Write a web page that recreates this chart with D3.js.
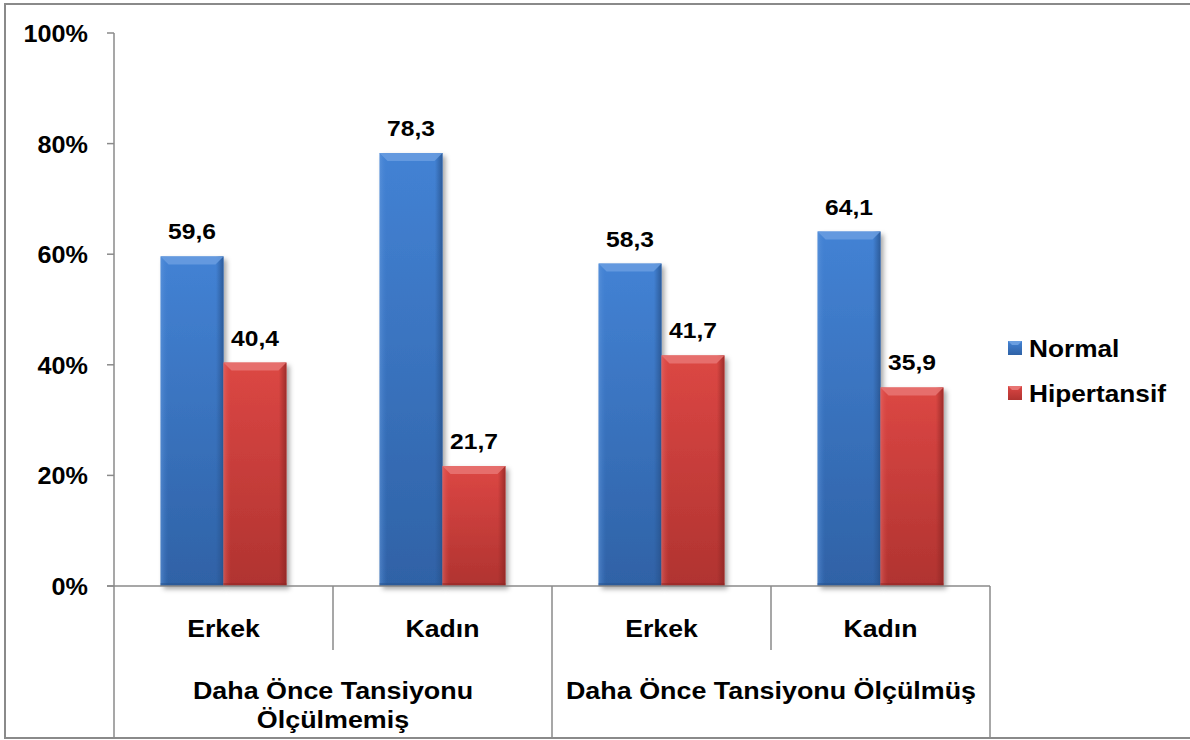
<!DOCTYPE html>
<html>
<head>
<meta charset="utf-8">
<script src="https://cdn.jsdelivr.net/npm/d3@7.9.0/dist/d3.min.js"></script>
<style>
  body { margin: 0; background: #fff; }
  svg text { font-family: Arial, "Liberation Sans", sans-serif; font-weight: bold; fill: #000; }
</style>
</head>
<body>
<svg id="chart" width="1190" height="740"></svg>
<script>
// data
const categories = ['Erkek', 'Kadın', 'Erkek', 'Kadın'];
const groups = [['Daha Önce Tansiyonu', 'Ölçülmemiş'], ['Daha Önce Tansiyonu Ölçülmüş']];
const series = ['Normal', 'Hipertansif'];
const normal = [59.6, 78.3, 58.3, 64.1];
const hipertansif = [40.4, 21.7, 41.7, 35.9];
const yTicks = [0, 20, 40, 60, 80, 100];

const values = [normal, hipertansif];
const colors = {
  Normal: { top: '#4382d4', bot: '#2f62a6', bevel: '#6a9ee0', edge: '#27528c' },
  Hipertansif: { top: '#dc4744', bot: '#b03330', bevel: '#e87573', edge: '#8e2624' }
};

const svg = d3.select('#chart');
const plotL = 114, plotR = 990, plotT = 33, plotB = 586;

// the original text is a bit wider than Liberation Sans, so stretch it horizontally
function label(x, y, txt, size, anchor, sx) {
  return svg.append('text')
    .attr('transform', `translate(${x},${y}) scale(${sx},1)`)
    .attr('text-anchor', anchor).attr('font-size', size).text(txt);
}

// outer frame
svg.append('rect')
  .attr('x', 5).attr('y', 4).attr('width', 1190).attr('height', 734)
  .attr('fill', 'none').attr('stroke', '#8a8a8a').attr('stroke-width', 2);

const y = d3.scaleLinear().domain([0, 100]).range([plotB, plotT]);
const x0 = d3.scaleBand().domain(d3.range(categories.length)).range([plotL, plotR]);
const x1 = d3.scaleBand().domain(series).range([0, x0.bandwidth()]).paddingOuter(0.74);

// defs: gradients + shadow
const defs = svg.append('defs');
series.forEach((s, i) => {
  const g = defs.append('linearGradient').attr('id', 'grad' + i)
    .attr('x1', 0).attr('y1', 0).attr('x2', 0).attr('y2', 1);
  g.append('stop').attr('offset', '0%').attr('stop-color', colors[s].top);
  g.append('stop').attr('offset', '100%').attr('stop-color', colors[s].bot);
  const e = defs.append('linearGradient').attr('id', 'edge' + i)
    .attr('x1', 0).attr('y1', 0).attr('x2', 1).attr('y2', 0);
  e.append('stop').attr('offset', '0%').attr('stop-color', colors[s].bevel).attr('stop-opacity', 0.5);
  e.append('stop').attr('offset', '12%').attr('stop-color', colors[s].top).attr('stop-opacity', 0);
  e.append('stop').attr('offset', '88%').attr('stop-color', colors[s].edge).attr('stop-opacity', 0);
  e.append('stop').attr('offset', '100%').attr('stop-color', colors[s].edge).attr('stop-opacity', 0.8);
});
const f = defs.append('filter').attr('id', 'shadow')
  .attr('x', '-20%').attr('y', '-10%').attr('width', '150%').attr('height', '130%');
f.append('feDropShadow').attr('dx', 3).attr('dy', 3).attr('stdDeviation', 2.5)
  .attr('flood-color', '#000').attr('flood-opacity', 0.35);

// y axis
svg.append('line').attr('x1', plotL).attr('x2', plotL).attr('y1', plotT).attr('y2', plotB)
  .attr('stroke', '#8a8a8a').attr('stroke-width', 1.5);
yTicks.forEach(t => {
  svg.append('line').attr('x1', plotL - 7).attr('x2', plotL).attr('y1', y(t)).attr('y2', y(t))
    .attr('stroke', '#8a8a8a').attr('stroke-width', 1.5);
  label(88, y(t) + 9, t + '%', 24, 'end', 1.05);
});

// bars
categories.forEach((c, ci) => {
  series.forEach((s, si) => {
    const v = values[si][ci];
    const bx = x0(ci) + x1(s), bw = x1.bandwidth();
    const by = y(v), bh = y(0) - y(v);
    const g = svg.append('g');
    g.append('rect').attr('x', bx).attr('y', by).attr('width', bw).attr('height', bh)
      .attr('fill', 'url(#grad' + si + ')').attr('filter', 'url(#shadow)');
    g.append('rect').attr('x', bx).attr('y', by).attr('width', bw).attr('height', bh)
      .attr('fill', 'url(#edge' + si + ')');
    const bev = 8;
    g.append('path')
      .attr('d', `M${bx},${by} L${bx + bw},${by} L${bx + bw - bev},${by + bev} L${bx + bev},${by + bev} Z`)
      .attr('fill', colors[s].bevel).attr('opacity', 0.85);
    g.append('rect').attr('x', bx).attr('y', y(0) - 3).attr('width', bw).attr('height', 3)
      .attr('fill', colors[s].edge).attr('opacity', 0.5);
    label(bx + bw / 2, by - 17, v.toFixed(1).replace('.', ','), 22, 'middle', 1.12);
  });
});

// x axis baseline and dividers
svg.append('line').attr('x1', plotL - 7).attr('x2', plotR).attr('y1', plotB).attr('y2', plotB)
  .attr('stroke', '#8a8a8a').attr('stroke-width', 1.5);
d3.range(categories.length + 1).forEach(i => {
  const xx = i < categories.length ? x0(i) : plotR;
  const long = i % 2 === 0;
  svg.append('line').attr('x1', xx).attr('x2', xx).attr('y1', plotB).attr('y2', long ? 738 : 650)
    .attr('stroke', '#8a8a8a').attr('stroke-width', 1.5);
});

// category labels
categories.forEach((c, ci) => {
  label(x0(ci) + x0.bandwidth() / 2, 637, c, 24, 'middle', 1.11);
});

// group labels
groups.forEach((lines, gi) => {
  const gx = x0(gi * 2) + x0.bandwidth();
  lines.forEach((l, li) => {
    label(gx, 699 + li * 29, l, 24, 'middle', 1.12);
  });
});

// legend
series.forEach((s, si) => {
  const ly = 341 + si * 45;
  svg.append('rect').attr('x', 1008).attr('y', ly).attr('width', 14).attr('height', 14)
    .attr('fill', 'url(#grad' + si + ')');
  svg.append('path')
    .attr('d', `M1008,${ly} L1022,${ly} L1018,${ly + 4} L1012,${ly + 4} Z`)
    .attr('fill', colors[s].bevel);
  label(1029, ly + 16, s, 23, 'start', 1.14);
});
</script>
</body>
</html>
